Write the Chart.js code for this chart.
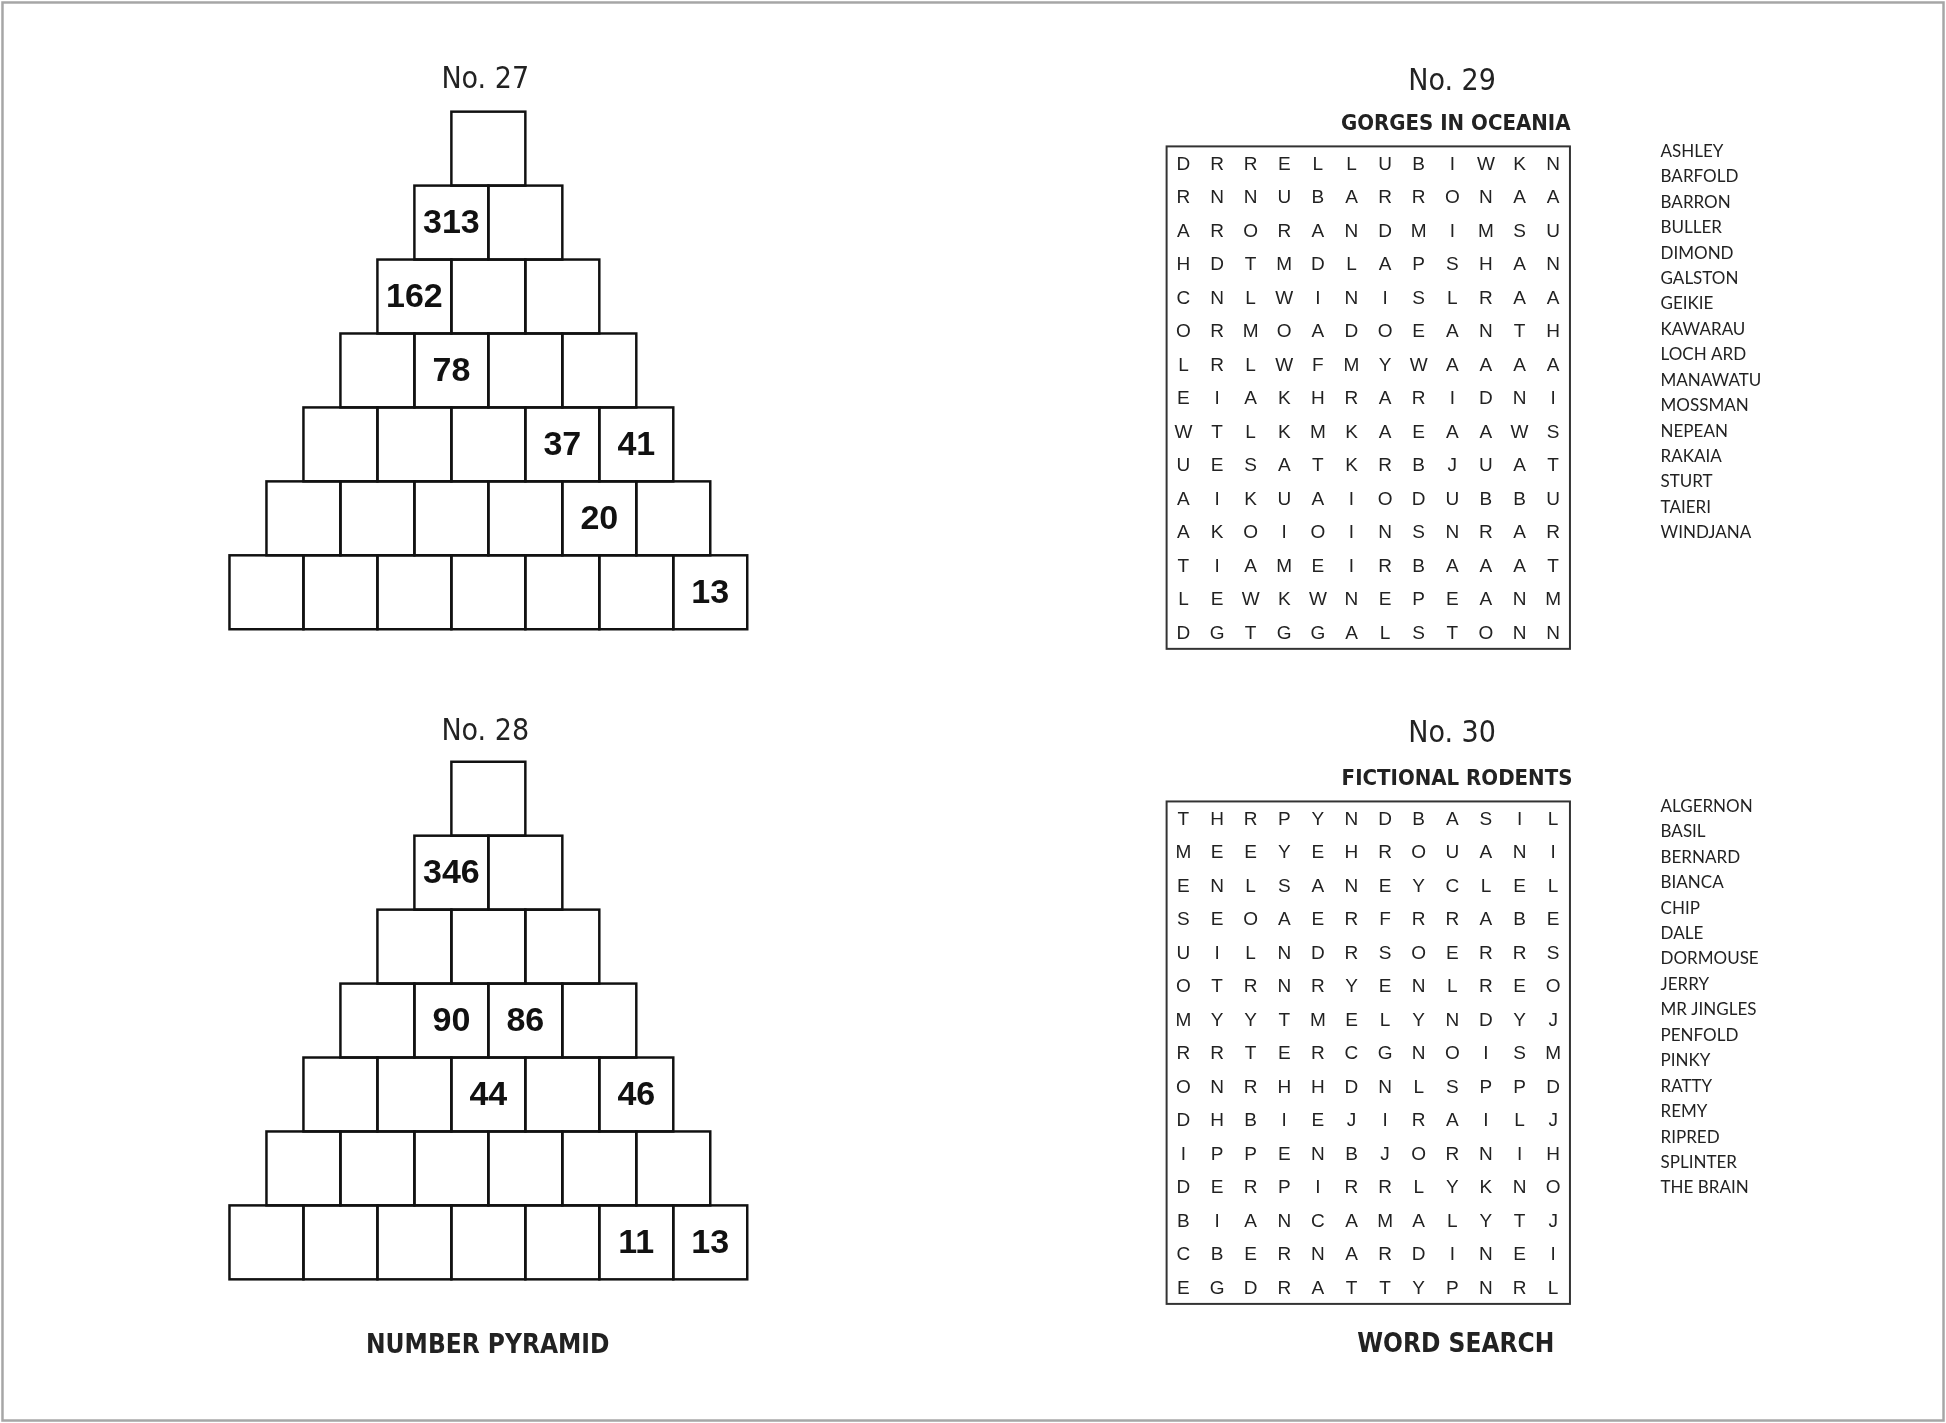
<!DOCTYPE html>
<html>
<head>
<meta charset="utf-8">
<script src="https://cdn.jsdelivr.net/npm/chart.js@4.4.1/dist/chart.umd.min.js"></script>
<style>
  html, body { margin: 0; padding: 0; background: #fff; }
  #wrap { width: 1946px; height: 1423px; position: relative; }
</style>
</head>
<body>
<div id="wrap"><canvas id="page"></canvas></div>
<script>
// Pyramid values, row by row from the top (null = empty cell)
const pyramid27 = [
    [null],
    [313, null],
    [162, null, null],
    [null, 78, null, null],
    [null, null, null, 37, 41],
    [null, null, null, null, 20, null],
    [null, null, null, null, null, null, 13]
];
const pyramid28 = [
    [null],
    [346, null],
    [null, null, null],
    [null, 90, 86, null],
    [null, null, 44, null, 46],
    [null, null, null, null, null, null],
    [null, null, null, null, null, 11, 13]
];

// Word search grids
const grid29 = [
    'DRRELLUBIWKN', 'RNNUBARRONAA', 'ARORANDMIMSU', 'HDTMDLAPSHAN', 'CNLWINISLRAA',
    'ORMOADOEANTH', 'LRLWFMYWAAAA', 'EIAKHRARIDNI', 'WTLKMKAEAAWS', 'UESATKRBJUAT',
    'AIKUAIODUBBU', 'AKOIOINSNRAR', 'TIAMEIRBAAAT', 'LEWKWNEPEANM', 'DGTGGALSTONN'
];
const grid30 = [
    'THRPYNDBASIL', 'MEEYEHROUANI', 'ENLSANEYCLEL', 'SEOAERFRRABE', 'UILNDRSOERRS',
    'OTRNRYENLREO', 'MYYTMELYNDYJ', 'RRTERCGNOISM', 'ONRHHDNLSPPD', 'DHBIEJIRAILJ',
    'IPPENBJORNIH', 'DERPIRRLYKNO', 'BIANCAMALYTJ', 'CBERNARDINEI', 'EGDRATTYPNRL'
];
const words29 = ['ASHLEY', 'BARFOLD', 'BARRON', 'BULLER', 'DIMOND', 'GALSTON', 'GEIKIE', 'KAWARAU',
    'LOCH ARD', 'MANAWATU', 'MOSSMAN', 'NEPEAN', 'RAKAIA', 'STURT', 'TAIERI', 'WINDJANA'];
const words30 = ['ALGERNON', 'BASIL', 'BERNARD', 'BIANCA', 'CHIP', 'DALE', 'DORMOUSE', 'JERRY',
    'MR JINGLES', 'PENFOLD', 'PINKY', 'RATTY', 'REMY', 'RIPRED', 'SPLINTER', 'THE BRAIN'];

const titles = [
    { text: 'No. 27', x: 391, y: 65, size: 24, bold: false },
    { text: 'No. 28', x: 391, y: 590, size: 24, bold: false },
    { text: 'No. 29', x: 1170, y: 66, size: 24, bold: false },
    { text: 'No. 30', x: 1170, y: 592, size: 24, bold: false },
    { text: 'GORGES IN OCEANIA', x: 1173, y: 100, size: 18, bold: true },
    { text: 'FICTIONAL RODENTS', x: 1174, y: 628, size: 18, bold: true },
    { text: 'NUMBER PYRAMID', x: 393, y: 1085, size: 21, bold: true },
    { text: 'WORD SEARCH', x: 1173, y: 1084, size: 21, bold: true }
];

const pyramids = [
    { rows: pyramid27, cx: 393.5, top: 90, cell: 59.6 },
    { rows: pyramid28, cx: 393.5, top: 614, cell: 59.6 }
];
const searches = [
    { grid: grid29, words: words29, left: 940, top: 118, w: 325, h: 405, listX: 1338, listY: 122 },
    { grid: grid30, words: words30, left: 940, top: 646, w: 325, h: 405, listX: 1338, listY: 650 }
];

const puzzlePlugin = {
    id: 'puzzles',
    afterDraw(chart) {
        const c = chart.ctx;
        const xs = chart.scales.x, ys = chart.scales.y;
        const X = v => xs.getPixelForValue(v);
        const Y = v => ys.getPixelForValue(v);
        const k = (X(1568) - X(0)) / 1568;
        const cond = '"DejaVu Sans Condensed", "DejaVu Sans", sans-serif';
        c.save();

        // page frame
        c.strokeStyle = '#a6a6a6';
        c.lineWidth = 2 * k;
        c.strokeRect(X(2), Y(2), X(1566) - X(2), Y(1145) - Y(2));

        c.textAlign = 'center';
        c.textBaseline = 'middle';
        c.fillStyle = '#222';
        titles.forEach(t => {
            c.font = (t.bold ? 'bold ' : '') + Math.round(t.size * k) + 'px ' + cond;
            c.fillText(t.text, X(t.x), Y(t.y));
        });

        // pyramids
        pyramids.forEach(p => {
            p.rows.forEach((row, r) => {
                const y0 = p.top + r * p.cell;
                const x0 = p.cx - row.length * p.cell / 2;
                row.forEach((v, i) => {
                    const x = x0 + i * p.cell;
                    c.strokeStyle = '#111';
                    c.lineWidth = 2 * k;
                    c.strokeRect(X(x), Y(y0), X(x + p.cell) - X(x), Y(y0 + p.cell) - Y(y0));
                    if (v !== null) {
                        c.fillStyle = '#111';
                        c.font = 'bold ' + Math.round(27 * k) + 'px "Liberation Sans", Arial, sans-serif';
                        c.fillText(String(v), X(x + p.cell / 2), Y(y0 + p.cell / 2 + 1));
                    }
                });
            });
        });

        // word searches
        searches.forEach(s => {
            c.strokeStyle = '#333';
            c.lineWidth = 1.6 * k;
            c.strokeRect(X(s.left), Y(s.top), X(s.left + s.w) - X(s.left), Y(s.top + s.h) - Y(s.top));
            const cw = s.w / s.grid[0].length, ch = s.h / s.grid.length;
            c.fillStyle = '#222';
            c.font = Math.round(15 * k) + 'px "Liberation Sans", Arial, sans-serif';
            s.grid.forEach((line, r) => {
                [...line].forEach((letter, i) => {
                    c.fillText(letter, X(s.left + (i + 0.5) * cw), Y(s.top + (r + 0.5) * ch + 1));
                });
            });
            c.textAlign = 'left';
            c.font = Math.round(13.5 * k) + 'px Lato, "Noto Sans", sans-serif';
            s.words.forEach((w, i) => {
                c.fillText(w, X(s.listX), Y(s.listY + i * 20.5));
            });
            c.textAlign = 'center';
        });
        c.restore();
    }
};

new Chart(document.getElementById('page').getContext('2d'), {
    type: 'scatter',
    data: { datasets: [{ data: [], pointRadius: 0 }] },
    options: {
        responsive: true,
        maintainAspectRatio: false,
        animation: false,
        layout: { padding: 0 },
        plugins: { legend: { display: false }, tooltip: { enabled: false } },
        scales: {
            x: { type: 'linear', min: 0, max: 1568, display: false },
            y: { type: 'linear', min: 0, max: 1147, reverse: true, display: false }
        }
    },
    plugins: [puzzlePlugin]
});
</script>
</body>
</html>
